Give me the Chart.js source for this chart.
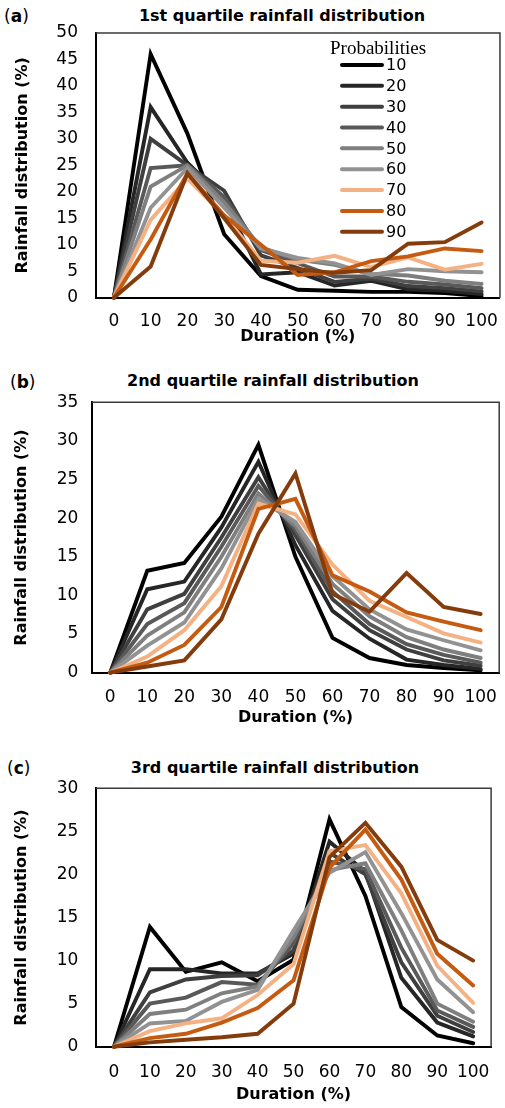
<!DOCTYPE html>
<html>
<head>
<meta charset="utf-8">
<script src="https://cdn.jsdelivr.net/npm/chart.js@4.4.1/dist/chart.umd.min.js"></script>
<style>
  html, body { margin: 0; padding: 0; background: #fff; }
  body { position: relative; width: 505px; height: 1108px; overflow: hidden; font-family: 'DejaVu Sans', sans-serif; color: #000; }
  canvas { position: absolute; left: 0; }
  .tag { position: absolute; font-size: 17px; line-height: 20px; }
  .title { position: absolute; width: 400px; text-align: center; font-size: 16px; font-weight: bold; line-height: 20px; white-space: nowrap; }
</style>
</head>
<body>
<div class="tag" style="left:4px; top:6px">(<b>a</b>)</div>
<div class="title" style="left:82px; top:6px">1st quartile rainfall distribution</div>
<canvas id="chartA" width="512" height="350" style="top:0"></canvas>

<div class="tag" style="left:10px; top:372px">(<b>b</b>)</div>
<div class="title" style="left:73px; top:371px">2nd quartile rainfall distribution</div>
<canvas id="chartB" width="512" height="360" style="top:370px"></canvas>

<div class="tag" style="left:7px; top:758px">(<b>c</b>)</div>
<div class="title" style="left:75px; top:758px">3rd quartile rainfall distribution</div>
<canvas id="chartC" width="505" height="358" style="top:750px"></canvas>

<script>
// axe X : durée (%), une courbe par probabilité
const durations = ['0', '10', '20', '30', '40', '50', '60', '70', '80', '90', '100'];
const probabilities = ['10', '20', '30', '40', '50', '60', '70', '80', '90'];

// 1er quartile
const q1p10 = [0, 46.0, 31.0, 12.0, 4.1, 1.5, 1.3, 1.1, 1.1, 0.9, 0.3];
const q1p20 = [0, 36.0, 25.5, 18.5, 4.4, 4.8, 2.3, 3.2, 1.6, 1.3, 0.7];
const q1p30 = [0, 30.0, 25.0, 20.2, 8.0, 5.6, 3.0, 3.6, 2.2, 1.8, 1.2];
const q1p40 = [0, 24.5, 25.0, 19.0, 9.0, 6.5, 4.0, 4.0, 3.0, 2.5, 1.8];
const q1p50 = [0, 21.0, 25.0, 18.0, 9.5, 7.2, 6.2, 4.5, 4.2, 3.2, 2.6];
const q1p60 = [0, 17.0, 24.5, 17.0, 9.3, 7.5, 6.5, 4.3, 5.4, 5.0, 4.8];
const q1p70 = [0, 14.7, 22.5, 15.5, 7.0, 6.6, 7.9, 5.8, 7.6, 5.3, 6.4];
const q1p80 = [0, 11.0, 23.5, 15.5, 10.0, 4.3, 4.8, 6.9, 7.8, 9.3, 8.8];
const q1p90 = [0, 5.9, 23.5, 15.0, 6.2, 5.4, 4.7, 5.2, 10.2, 10.5, 14.2];

// 2e quartile
const q2p10 = [0, 13.2, 14.2, 20.2, 29.5, 15.0, 4.5, 1.9, 1.0, 0.6, 0.3];
const q2p20 = [0, 10.8, 11.8, 18.8, 27.3, 16.5, 8.0, 4.4, 1.7, 1.0, 0.5];
const q2p30 = [0, 8.2, 10.2, 17.5, 25.3, 17.8, 9.5, 5.5, 3.0, 1.6, 0.9];
const q2p40 = [0, 6.3, 9.0, 16.3, 24.2, 18.5, 10.5, 6.3, 3.7, 2.3, 1.3];
const q2p50 = [0, 4.8, 7.8, 15.0, 23.2, 19.0, 11.5, 7.3, 4.6, 3.0, 1.9];
const q2p60 = [0, 3.5, 6.5, 13.5, 22.5, 19.5, 12.5, 8.2, 5.6, 4.2, 2.9];
const q2p70 = [0, 2.1, 5.5, 11.2, 21.9, 20.5, 14.0, 9.3, 7.2, 5.1, 3.9];
const q2p80 = [0, 1.3, 3.6, 8.5, 21.2, 22.5, 12.6, 10.5, 7.8, 6.6, 5.5];
const q2p90 = [0, 0.8, 1.6, 6.9, 18.0, 25.8, 10.2, 7.9, 12.9, 8.5, 7.6];

// 3e quartile
const q3p10 = [0, 13.9, 8.7, 9.8, 7.6, 10.1, 26.4, 17.5, 4.6, 1.3, 0.4];
const q3p20 = [0, 9.0, 9.0, 8.5, 8.5, 10.8, 23.8, 20.3, 8.0, 2.8, 1.2];
const q3p30 = [0, 6.3, 7.8, 8.2, 8.3, 11.2, 22.5, 20.0, 9.8, 3.6, 1.7];
const q3p40 = [0, 5.0, 5.7, 7.5, 7.2, 12.0, 21.5, 20.6, 11.5, 4.2, 2.3];
const q3p50 = [0, 3.8, 4.3, 6.2, 7.0, 12.7, 20.5, 21.3, 13.5, 5.0, 2.9];
const q3p60 = [0, 2.7, 3.0, 5.2, 6.6, 13.5, 20.2, 22.6, 15.5, 7.8, 4.0];
const q3p70 = [0, 1.8, 2.7, 3.3, 6.0, 9.6, 22.7, 23.4, 17.8, 9.4, 5.1];
const q3p80 = [0, 1.0, 1.5, 2.8, 4.5, 7.7, 20.8, 25.2, 19.4, 10.8, 7.1];
const q3p90 = [0, 0.5, 0.8, 1.1, 1.5, 5.0, 22.0, 26.0, 20.9, 12.4, 10.0];

const lineColors = ['#000000', '#262626', '#3f3f3f', '#595959', '#7f7f7f', '#929292', '#f4b183', '#c55a11', '#843c0c'];

// cadre haut / droit de la zone de tracé
const plotFrame = {
  id: 'plotFrame',
  beforeDatasetsDraw(chart) {
    const { ctx, chartArea: a } = chart;
    ctx.save();
    ctx.strokeStyle = '#3a3a3a';
    ctx.lineWidth = 1.5;
    ctx.beginPath();
    ctx.moveTo(a.left, a.top);
    ctx.lineTo(a.right, a.top);
    ctx.lineTo(a.right, a.bottom);
    ctx.stroke();
    ctx.restore();
  }
};

// légende "Probabilities" dans le graphique (a)
const probLegend = {
  id: 'probLegend',
  afterDraw(chart, args, opts) {
    if (!opts.show) return;
    const ctx = chart.ctx;
    ctx.save();
    ctx.fillStyle = '#000';
    ctx.font = '19px "Liberation Serif"';
    ctx.textBaseline = 'alphabetic';
    ctx.fillText('Probabilities', 330, 53.5);
    ctx.font = '16px "DejaVu Sans"';
    ctx.textBaseline = 'middle';
    chart.data.datasets.forEach((ds, i) => {
      const y = 65 + i * 20.84;
      ctx.strokeStyle = ds.borderColor;
      ctx.lineWidth = 4;
      ctx.lineCap = 'round';
      ctx.beginPath();
      ctx.moveTo(342, y);
      ctx.lineTo(382, y);
      ctx.stroke();
      ctx.fillText(ds.label, 386, y + 1);
    });
    ctx.restore();
  }
};

function buildChart(canvasId, series, p) {
  const font = 'DejaVu Sans';
  return new Chart(document.getElementById(canvasId), {
    type: 'line',
    data: {
      labels: durations,
      datasets: series.map((values, i) => ({
        label: probabilities[i],
        data: values,
        borderColor: lineColors[i],
        backgroundColor: lineColors[i],
        borderWidth: 3.9,
        borderCapStyle: 'round',
        pointRadius: 0,
        tension: 0,
        fill: false,
        clip: false,
        order: series.length - i
      }))
    },
    options: {
      responsive: false,
      animation: false,
      layout: { padding: p.padding },
      plugins: {
        legend: { display: false },
        tooltip: { enabled: false },
        probLegend: { show: p.legend }
      },
      scales: {
        x: {
          offset: true,
          grid: { display: false, drawTicks: false },
          border: { color: '#000', width: 2 },
          ticks: { color: '#000', font: { family: font, size: 17 }, padding: p.xTickPad, maxRotation: 0, autoSkip: false },
          title: { display: true, text: 'Duration (%)', color: '#000', font: { family: font, size: 16, weight: 'bold' }, padding: { top: 0, bottom: p.xTitlePad } },
          afterFit: scale => { scale.height = p.xHeight; }
        },
        y: {
          min: 0,
          max: p.yMax,
          grid: { display: false, drawTicks: false },
          border: { color: '#000', width: 2 },
          ticks: { stepSize: 5, color: '#000', font: { family: font, size: 17 }, padding: p.yTickPad },
          title: { display: true, text: 'Rainfall distribution (%)', color: '#000', font: { family: font, size: 16, weight: 'bold' }, padding: { top: p.yTitlePad, bottom: 0 } },
          afterFit: scale => { scale.width = p.yWidth; }
        }
      }
    },
    plugins: [plotFrame, probLegend]
  });
}

buildChart('chartA', [q1p10, q1p20, q1p30, q1p40, q1p50, q1p60, q1p70, q1p80, q1p90], {
  padding: { top: 33, right: 4, bottom: 0, left: 0 },
  yWidth: 95.5, xHeight: 52.3, yMax: 50,
  yTickPad: 17.5, xTickPad: 14, xTitlePad: 3.4, yTitlePad: 13.4, legend: true
});

buildChart('chartB', [q2p10, q2p20, q2p30, q2p40, q2p50, q2p60, q2p70, q2p80, q2p90], {
  padding: { top: 32.3, right: 2.3, bottom: 0, left: 0 },
  yWidth: 91.7, xHeight: 57.3, yMax: 35,
  yTickPad: 13.4, xTickPad: 15, xTitlePad: 2.4, yTitlePad: 12.4, legend: false
});

buildChart('chartC', [q3p10, q3p20, q3p30, q3p40, q3p50, q3p60, q3p70, q3p80, q3p90], {
  padding: { top: 38.3, right: 2.5, bottom: 0, left: 0 },
  yWidth: 96, xHeight: 61.3, yMax: 30,
  yTickPad: 17.7, xTickPad: 15.5, xTitlePad: 3.4, yTitlePad: 12.4, legend: false
});
</script>
</body>
</html>
